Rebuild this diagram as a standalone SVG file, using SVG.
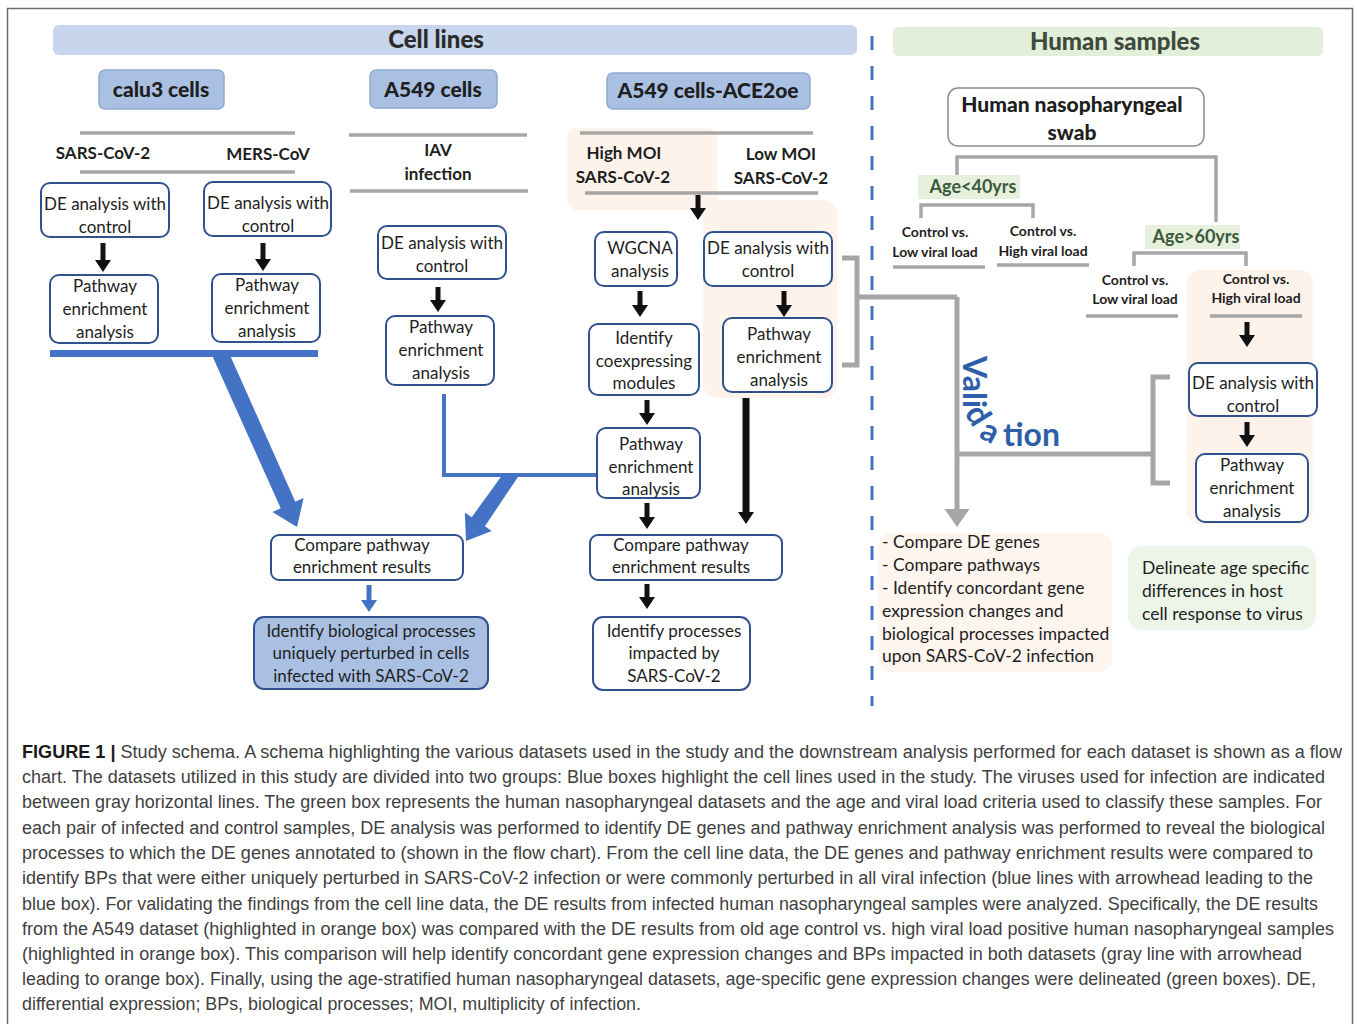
<svg xmlns="http://www.w3.org/2000/svg" width="1357" height="1024" viewBox="0 0 1357 1024">
<style>
.frame{fill:#ffffff;stroke:#6b6b6b;stroke-width:1.5}
.node{fill:#ffffff;stroke:#2f528f;stroke-width:2}
.nodeb{fill:#a9c0e2;stroke:#2f528f;stroke-width:2}
.hdr{fill:#a9c0e2;stroke:#8fa9d1;stroke-width:1.5}
.t{font-family:Lato,"Open Sans",sans-serif;font-size:17px;fill:#1e1e1e;text-anchor:middle}
.tl{font-family:Lato,"Open Sans",sans-serif;font-size:17.5px;fill:#1e1e1e}
.b{font-family:Lato,"Open Sans",sans-serif;font-weight:bold;fill:#1e1e1e;text-anchor:middle}
.v{font-family:Lato,"Open Sans",sans-serif;font-weight:bold;font-size:32px;fill:#2e5ea8}
.gray{stroke:#a6a6a6;stroke-width:3.5;fill:none}
.grayc{stroke:#a6a6a6;stroke-width:5;fill:none}
.blk{stroke:#111;stroke-width:5;fill:none}
.blue{stroke:#4472c4;fill:none}
.cap{font-family:"Liberation Sans",Arial,sans-serif;font-size:18px;fill:#3f3f3f}
.orange{fill:#fdf3ea}
</style>
<defs>
<marker id="ah" markerUnits="userSpaceOnUse" viewBox="0 -8 12 16" refX="1" refY="0" markerWidth="12" markerHeight="16" orient="auto" overflow="visible">
<path d="M0,-8 L12,0 L0,8 z" fill="#111"/>
</marker>
<marker id="ahg" markerUnits="userSpaceOnUse" viewBox="0 -13 18 26" refX="1" refY="0" markerWidth="18" markerHeight="26" orient="auto" overflow="visible">
<path d="M0,-12.5 L18,0 L0,12.5 z" fill="#a6a6a6"/>
</marker>
</defs>
<rect class="frame" x="7.5" y="8.5" width="1345" height="1030"/>

<g id="highlights">
<rect class="orange" x="567" y="128" width="150" height="82" rx="10"/>
<rect class="orange" x="703" y="200" width="134" height="198" rx="14"/>
<rect class="orange" x="1187" y="270" width="126" height="254" rx="12"/>
</g>

<g id="header-cell-lines">
<rect x="53" y="25" width="804" height="30" rx="6" fill="#c7d6ec"/>
<text class="b" x="436" y="48" font-size="24" style="font-weight:900;fill:#2b2b2b">Cell lines</text>
</g>
<g id="header-human-samples">
<rect x="893" y="27" width="430" height="29" rx="5" fill="#e2efd9"/>
<text class="b" x="1115" y="50" font-size="24" style="font-weight:900;fill:#3d4a3d">Human samples</text>
</g>

<line x1="872" y1="36" x2="872" y2="706" stroke="#4472c4" stroke-width="3" stroke-dasharray="14,16"/>

<g id="calu3">
<rect class="hdr" x="99" y="70" width="125" height="39" rx="6"/>
<text class="b" x="161" y="97" font-size="21" style="font-weight:900">calu3 cells</text>
</g>
<g id="a549">
<rect class="hdr" x="370" y="70" width="127" height="38" rx="6"/>
<text class="b" x="433" y="97" font-size="21" style="font-weight:900">A549 cells</text>
</g>
<g id="a549ace">
<rect class="hdr" x="607" y="73" width="203" height="36" rx="6"/>
<text class="b" x="708" y="98" font-size="21" style="font-weight:900">A549 cells-ACE2oe</text>
</g>

<g id="virus-labels">
<line class="gray" x1="80" y1="133" x2="295" y2="133"/>
<line class="gray" x1="80" y1="172" x2="295" y2="172"/>
<text class="b" x="103" y="159" font-size="17">SARS-CoV-2</text>
<text class="b" x="268" y="160" font-size="17">MERS-CoV</text>
<line class="gray" x1="349" y1="135" x2="527" y2="135"/>
<line class="gray" x1="350" y1="191" x2="528" y2="191"/>
<text class="b" x="438" y="156" font-size="17">IAV</text>
<text class="b" x="438" y="180" font-size="17">infection</text>
<line class="gray" x1="580" y1="133" x2="813" y2="133"/>
<line class="gray" x1="585" y1="193" x2="818" y2="193"/>
<text class="b" x="624" y="159" font-size="17">High MOI</text>
<text class="b" x="623" y="183" font-size="17">SARS-CoV-2</text>
<text class="b" x="781" y="160" font-size="17">Low MOI</text>
<text class="b" x="781" y="184" font-size="17">SARS-CoV-2</text>
</g>

<g id="n-calu3-de"><rect class="node" x="41" y="183" width="128" height="54" rx="9"/>
<text class="t" x="105" y="210">DE analysis with</text><text class="t" x="105" y="233">control</text></g>
<g id="n-mers-de"><rect class="node" x="204" y="182" width="127" height="54" rx="9"/>
<text class="t" x="268" y="209">DE analysis with</text><text class="t" x="268" y="232">control</text></g>
<g id="n-calu3-pw"><rect class="node" x="50" y="275" width="108" height="68" rx="9"/>
<text class="t" x="105" y="292">Pathway</text><text class="t" x="105" y="315">enrichment</text><text class="t" x="105" y="338">analysis</text></g>
<g id="n-mers-pw"><rect class="node" x="212" y="274" width="108" height="68" rx="9"/>
<text class="t" x="267" y="291">Pathway</text><text class="t" x="267" y="314">enrichment</text><text class="t" x="267" y="337">analysis</text></g>

<g id="n-iav-de"><rect class="node" x="378" y="226" width="128" height="53" rx="9"/>
<text class="t" x="442" y="249">DE analysis with</text><text class="t" x="442" y="272">control</text></g>
<g id="n-iav-pw"><rect class="node" x="386" y="316" width="108" height="69" rx="9"/>
<text class="t" x="441" y="333">Pathway</text><text class="t" x="441" y="356">enrichment</text><text class="t" x="441" y="379">analysis</text></g>

<g id="n-wgcna"><rect class="node" x="595" y="232" width="82" height="54" rx="9"/>
<text class="t" x="640" y="254">WGCNA</text><text class="t" x="640" y="277">analysis</text></g>
<g id="n-ace-de"><rect class="node" x="704" y="232" width="128" height="54" rx="9"/>
<text class="t" x="768" y="254">DE analysis with</text><text class="t" x="768" y="277">control</text></g>
<g id="n-modules"><rect class="node" x="589" y="324" width="110" height="71" rx="9"/>
<text class="t" x="644" y="344">Identify</text><text class="t" x="644" y="367">coexpressing</text><text class="t" x="644" y="389">modules</text></g>
<g id="n-ace-pw"><rect class="node" x="723" y="318" width="109" height="74" rx="9"/>
<text class="t" x="779" y="340">Pathway</text><text class="t" x="779" y="363">enrichment</text><text class="t" x="779" y="386">analysis</text></g>
<g id="n-wgcna-pw"><rect class="node" x="597" y="428" width="103" height="70" rx="9"/>
<text class="t" x="651" y="450">Pathway</text><text class="t" x="651" y="473">enrichment</text><text class="t" x="651" y="495">analysis</text></g>

<g id="n-compare-left"><rect class="node" x="271" y="535" width="192" height="45" rx="8"/>
<text class="t" x="362" y="551">Compare pathway</text><text class="t" x="362" y="573">enrichment results</text></g>
<g id="n-compare-right"><rect class="node" x="590" y="535" width="192" height="45" rx="8"/>
<text class="t" x="681" y="551">Compare pathway</text><text class="t" x="681" y="573">enrichment results</text></g>
<g id="n-identify-bp"><rect class="nodeb" x="254" y="617" width="234" height="72" rx="10"/>
<text class="t" x="371" y="637">Identify biological processes</text><text class="t" x="371" y="659">uniquely perturbed in cells</text><text class="t" x="371" y="682">infected with SARS-CoV-2</text></g>
<g id="n-identify-proc"><rect class="node" x="593" y="617" width="157" height="73" rx="10"/>
<text class="t" x="674" y="637">Identify processes</text><text class="t" x="674" y="659">impacted by</text><text class="t" x="674" y="682">SARS-CoV-2</text></g>

<g id="n-swab"><rect x="948" y="88" width="256" height="58" rx="10" fill="#fff" stroke="#8c8c8c" stroke-width="1.5"/>
<text class="b" x="1072" y="112" font-size="21" style="font-weight:900">Human nasopharyngeal</text><text class="b" x="1072" y="140" font-size="21" style="font-weight:900">swab</text></g>
<g id="age40"><rect x="918" y="175" width="102" height="24" fill="#e6f0dd"/>
<text class="b" x="973" y="193" font-size="18" style="fill:#3b5a3b">Age&lt;40yrs</text></g>
<g id="age60"><rect x="1145" y="225" width="95" height="24" fill="#e6f0dd"/>
<text class="b" x="1196" y="243" font-size="18" style="fill:#3b5a3b">Age&gt;60yrs</text></g>
<g id="age-groups">
<text class="b" x="935" y="237" font-size="14">Control vs.</text><text class="b" x="935" y="257" font-size="14">Low viral load</text>
<text class="b" x="1043" y="236" font-size="14">Control vs.</text><text class="b" x="1043" y="256" font-size="14">High viral load</text>
<line class="gray" x1="893" y1="267" x2="985" y2="267"/>
<line class="gray" x1="997" y1="265" x2="1089" y2="265"/>
<text class="b" x="1135" y="285" font-size="14">Control vs.</text><text class="b" x="1135" y="304" font-size="14">Low viral load</text>
<text class="b" x="1256" y="284" font-size="14">Control vs.</text><text class="b" x="1256" y="303" font-size="14">High viral load</text>
<line class="gray" x1="1086" y1="316" x2="1178" y2="316"/>
<line class="gray" x1="1210" y1="316" x2="1302" y2="316"/>
</g>
<g id="n-hs-de"><rect class="node" x="1189" y="363" width="128" height="53" rx="9"/>
<text class="t" x="1253" y="389">DE analysis with</text><text class="t" x="1253" y="412">control</text></g>
<g id="n-hs-pw"><rect class="node" x="1196" y="454" width="112" height="68" rx="9"/>
<text class="t" x="1252" y="471">Pathway</text><text class="t" x="1252" y="494">enrichment</text><text class="t" x="1252" y="517">analysis</text></g>

<g id="n-validation-results"><rect x="878" y="533" width="234" height="139" rx="14" fill="#fdf5ee"/>
<text class="tl" x="882" y="548">- Compare DE genes</text>
<text class="tl" x="882" y="571">- Compare pathways</text>
<text class="tl" x="882" y="594">- Identify concordant gene</text>
<text class="tl" x="882" y="617">expression changes and</text>
<text class="tl" x="882" y="640">biological processes impacted</text>
<text class="tl" x="882" y="662">upon SARS-CoV-2 infection</text></g>
<g id="n-delineate"><rect x="1128" y="546" width="188" height="84" rx="14" fill="#edf5e8"/>
<text class="tl" x="1142" y="574">Delineate age specific</text>
<text class="tl" x="1142" y="597">differences in host</text>
<text class="tl" x="1142" y="620">cell response to virus</text></g>

<g id="connectors">
<line class="blk" x1="103" y1="243" x2="103" y2="261" marker-end="url(#ah)"/>
<line class="blk" x1="263" y1="243" x2="263" y2="260" marker-end="url(#ah)"/>
<line class="blk" x1="438" y1="287" x2="438" y2="301" marker-end="url(#ah)"/>
<line class="blk" x1="698" y1="195" x2="698" y2="209" marker-end="url(#ah)"/>
<line class="blk" x1="640" y1="291" x2="640" y2="306" marker-end="url(#ah)"/>
<line class="blk" x1="784" y1="291" x2="784" y2="306" marker-end="url(#ah)"/>
<line class="blk" x1="647" y1="400" x2="647" y2="414" marker-end="url(#ah)"/>
<line class="blk" x1="647" y1="503" x2="647" y2="518" marker-end="url(#ah)"/>
<line class="blk" x1="647" y1="584" x2="647" y2="598" marker-end="url(#ah)"/>
<line x1="746" y1="398" x2="746" y2="513" stroke="#111" stroke-width="7" marker-end="url(#ah)"/>
<line class="blk" x1="1247" y1="322" x2="1247" y2="336" marker-end="url(#ah)"/>
<line class="blk" x1="1247" y1="422" x2="1247" y2="436" marker-end="url(#ah)"/>
<line class="blue" x1="50" y1="353.5" x2="318" y2="353.5" stroke-width="7"/>
<polygon fill="#4472c4" points="211,353 229,353 295.3,501.7 303.6,498 297,527 272.4,512 280.7,508.3"/>
<polyline class="blue" points="444,394 444,475 596,475" stroke-width="4"/>
<polygon fill="#4472c4" points="503,474 520,474 484.9,526.2 491.8,531 466,541 464.8,512.5 471.7,517.2"/>
<polygon fill="#4472c4" points="366.5,585 371.5,585 371.5,600 377,600 369,612 361,600 366.5,600"/>
<polyline class="gray" points="957,175 957,157 1216,157 1216,222" stroke-width="4"/>
<polyline class="gray" points="921,218 921,205 1033,205 1033,218"/>
<polyline class="gray" points="1134,266 1134,253 1246,253 1246,266"/>
<polyline class="grayc" points="842,258 857,258 857,365 842,365"/>
<line class="grayc" x1="857" y1="297" x2="957" y2="297"/>
<line class="grayc" x1="957" y1="297" x2="957" y2="510" marker-end="url(#ahg)"/>
<line class="grayc" x1="957" y1="454" x2="1153" y2="454"/>
<polyline class="grayc" points="1170,377 1153,377 1153,483 1170,483"/>
</g>

<g id="validation-label">
<text class="v" transform="translate(963,356) rotate(90)">Vali</text>
<text class="v" transform="translate(964,413) rotate(58)">d</text>
<text class="v" transform="translate(978,437) rotate(28)">a</text>
<text class="v" x="1003" y="446">tion</text>
</g>

<g id="caption">
<text class="cap" x="22" y="758" textLength="1320" lengthAdjust="spacingAndGlyphs"><tspan font-weight="bold" fill="#1a1a1a">FIGURE 1 |</tspan> Study schema. A schema highlighting the various datasets used in the study and the downstream analysis performed for each dataset is shown as a flow</text>
<text class="cap" x="22" y="783" textLength="1303" lengthAdjust="spacingAndGlyphs">chart. The datasets utilized in this study are divided into two groups: Blue boxes highlight the cell lines used in the study. The viruses used for infection are indicated</text>
<text class="cap" x="22" y="808" textLength="1300" lengthAdjust="spacingAndGlyphs">between gray horizontal lines. The green box represents the human nasopharyngeal datasets and the age and viral load criteria used to classify these samples. For</text>
<text class="cap" x="22" y="834" textLength="1303" lengthAdjust="spacingAndGlyphs">each pair of infected and control samples, DE analysis was performed to identify DE genes and pathway enrichment analysis was performed to reveal the biological</text>
<text class="cap" x="22" y="859" textLength="1291" lengthAdjust="spacingAndGlyphs">processes to which the DE genes annotated to (shown in the flow chart). From the cell line data, the DE genes and pathway enrichment results were compared to</text>
<text class="cap" x="22" y="884" textLength="1291" lengthAdjust="spacingAndGlyphs">identify BPs that were either uniquely perturbed in SARS-CoV-2 infection or were commonly perturbed in all viral infection (blue lines with arrowhead leading to the</text>
<text class="cap" x="22" y="910" textLength="1296" lengthAdjust="spacingAndGlyphs">blue box). For validating the findings from the cell line data, the DE results from infected human nasopharyngeal samples were analyzed. Specifically, the DE results</text>
<text class="cap" x="22" y="935" textLength="1312" lengthAdjust="spacingAndGlyphs">from the A549 dataset (highlighted in orange box) was compared with the DE results from old age control vs. high viral load positive human nasopharyngeal samples</text>
<text class="cap" x="22" y="960" textLength="1280" lengthAdjust="spacingAndGlyphs">(highlighted in orange box). This comparison will help identify concordant gene expression changes and BPs impacted in both datasets (gray line with arrowhead</text>
<text class="cap" x="22" y="985" textLength="1294" lengthAdjust="spacingAndGlyphs">leading to orange box). Finally, using the age-stratified human nasopharyngeal datasets, age-specific gene expression changes were delineated (green boxes). DE,</text>
<text class="cap" x="22" y="1010" textLength="619" lengthAdjust="spacingAndGlyphs">differential expression; BPs, biological processes; MOI, multiplicity of infection.</text>
</g>
</svg>
